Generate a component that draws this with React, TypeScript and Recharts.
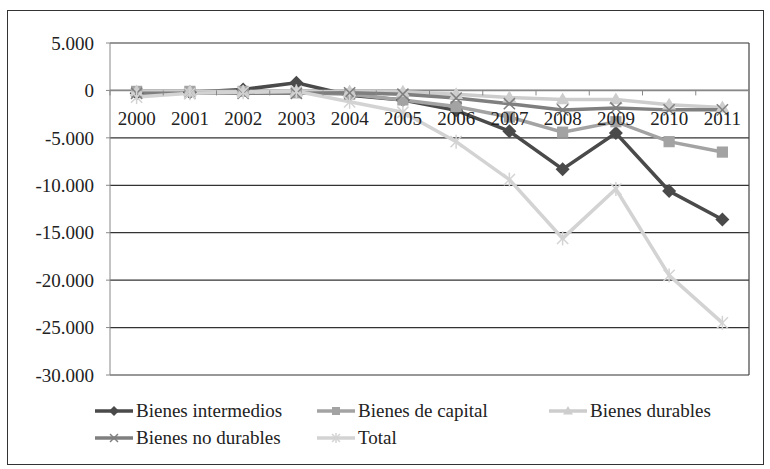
// Bienes: variación por tipo de bien 2000-2011 (líneas con marcadores, estilo Excel en grises)
import {
  CartesianGrid,
  Line,
  LineChart,
  ReferenceLine,
  XAxis,
  YAxis,
} from 'recharts'

const years = ['2000', '2001', '2002', '2003', '2004', '2005', '2006', '2007', '2008', '2009', '2010', '2011']
const intermedios = [-300, -200, 100, 800, -500, -1000, -2100, -4300, -8300, -4500, -10600, -13600]
const capital = [-100, -100, -100, -250, -400, -1000, -1700, -2800, -4400, -3300, -5400, -6500]
const durables = [-100, -100, -100, -100, -100, -150, -400, -750, -950, -950, -1500, -1800]
const noDurables = [-300, -300, -300, -300, -250, -400, -800, -1400, -2050, -1850, -2050, -2050]
const total = [-700, -300, -200, -100, -1200, -2300, -5400, -9400, -15600, -10400, -19500, -24500]
const yTicks = [5000, 0, -5000, -10000, -15000, -20000, -25000, -30000]

const FONT = '"Liberation Serif", "Times New Roman", serif'
const W = 770
const H = 469
const X_AXIS_H = 20
const M = { top: 43, right: 21, bottom: 94 - X_AXIS_H, left: 0 }
const Y_AXIS_W = 110
const PLOT_H = H - M.top - M.bottom - X_AXIS_H
const ZERO_Y = M.top + (PLOT_H * 5000) / 35000
const BAND = (W - M.right - Y_AXIS_W) / years.length

const data = years.map((y, i) => ({
  year: y,
  intermedios: intermedios[i],
  capital: capital[i],
  durables: durables[i],
  noDurables: noDurables[i],
  total: total[i],
}))

const fmt = (n: number) => (n < 0 ? '-' : '') + String(Math.abs(n)).replace(/\B(?=(\d{3})+(?!\d))/g, '.')

type Shape = 'diamond' | 'square' | 'triangle' | 'x' | 'star'

function marker(shape: Shape, cx: number, cy: number, color: string, r: number, key?: string | number) {
  if (shape === 'diamond')
    return <path key={key} d={`M${cx},${cy - r} L${cx + r},${cy} L${cx},${cy + r} L${cx - r},${cy} Z`} fill={color} />
  if (shape === 'square')
    return <rect key={key} x={cx - r * 0.8} y={cy - r * 0.8} width={r * 1.6} height={r * 1.6} fill={color} />
  if (shape === 'triangle')
    return <path key={key} d={`M${cx},${cy - r} L${cx + r},${cy + r * 0.7} L${cx - r},${cy + r * 0.7} Z`} fill={color} />
  const d = r * 0.8
  return (
    <g key={key} stroke={color} strokeWidth={1.5}>
      <line x1={cx - d} y1={cy - d} x2={cx + d} y2={cy + d} />
      <line x1={cx - d} y1={cy + d} x2={cx + d} y2={cy - d} />
      {shape === 'star' && <line x1={cx} y1={cy - r} x2={cx} y2={cy + r} />}
    </g>
  )
}

const series: { key: string; name: string; color: string; shape: Shape }[] = [
  { key: 'intermedios', name: 'Bienes intermedios', color: '#4a4a4a', shape: 'diamond' },
  { key: 'capital', name: 'Bienes de capital', color: '#a3a3a3', shape: 'square' },
  { key: 'durables', name: 'Bienes durables', color: '#cdcdcd', shape: 'triangle' },
  { key: 'noDurables', name: 'Bienes no durables', color: '#7f7f7f', shape: 'x' },
  { key: 'total', name: 'Total', color: '#d3d3d3', shape: 'star' },
]

// posiciones de la leyenda (dos filas, tres columnas)
const legendPos = [
  { left: 95, top: 411 },
  { left: 317, top: 411 },
  { left: 549, top: 411 },
  { left: 95, top: 438 },
  { left: 317, top: 438 },
]

function YearTick(props: any) {
  const { x, payload } = props
  return (
    <g>
      <line x1={x - BAND / 2} y1={ZERO_Y} x2={x - BAND / 2} y2={ZERO_Y + 5} stroke="#888" />
      <text x={x} y={ZERO_Y + 35} textAnchor="middle" fontFamily={FONT} fontSize={19} fill="#222">
        {payload.value}
      </text>
    </g>
  )
}

export default function App() {
  return (
    <div style={{ position: 'absolute', left: 0, top: 0, width: W, height: H, background: '#fff', fontFamily: FONT }}>
      <div
        style={{
          position: 'absolute',
          left: 7,
          top: 10,
          width: 757,
          height: 455,
          border: '1.5px solid #333',
          boxSizing: 'border-box',
        }}
      />
      <div style={{ position: 'absolute', left: 0, top: 0 }}>
        <LineChart width={W} height={H} data={data} margin={M}>
          <CartesianGrid vertical={false} stroke="#333" strokeWidth={1.2} />
          {/* borde derecho del área de trazado */}
          <CartesianGrid
            horizontal={false}
            stroke="#444"
            strokeWidth={1.2}
            verticalCoordinatesGenerator={({ offset }: any) => [offset.left + offset.width]}
          />
          <XAxis
            dataKey="year"
            height={X_AXIS_H}
            axisLine={false}
            tickLine={false}
            tick={(p: any) => <YearTick {...p} />}
            interval={0}
            padding={{ left: BAND / 2, right: BAND / 2 }}
          />
          <YAxis
            width={Y_AXIS_W}
            domain={[-30000, 5000]}
            ticks={yTicks}
            tickFormatter={fmt}
            stroke="#888"
            tickSize={4}
            tickMargin={12}
            tick={{ fill: '#222', fontSize: 19, fontFamily: FONT }}
          />
          <ReferenceLine y={0} stroke="#888" strokeWidth={1.5} />
          {series.map((s) => (
            <Line
              key={s.key}
              dataKey={s.key}
              name={s.name}
              stroke={s.color}
              strokeWidth={3.5}
              isAnimationActive={false}
              dot={(p: any) => marker(s.shape, p.cx, p.cy, s.color, 7, `${s.key}-${p.index}`)}
              activeDot={false}
            />
          ))}
        </LineChart>
      </div>
      {series.map((s, i) => (
        <div
          key={s.key}
          style={{
            position: 'absolute',
            left: legendPos[i].left,
            top: legendPos[i].top - 12,
            height: 24,
            display: 'flex',
            alignItems: 'center',
            fontSize: 19,
            color: '#222',
            whiteSpace: 'nowrap',
          }}
        >
          <svg width={40} height={16} style={{ marginRight: 1 }}>
            <line x1={0} y1={8} x2={38} y2={8} stroke={s.color} strokeWidth={3.5} />
            {marker(s.shape, 19, 8, s.color, 5)}
          </svg>
          {s.name}
        </div>
      ))}
    </div>
  )
}
